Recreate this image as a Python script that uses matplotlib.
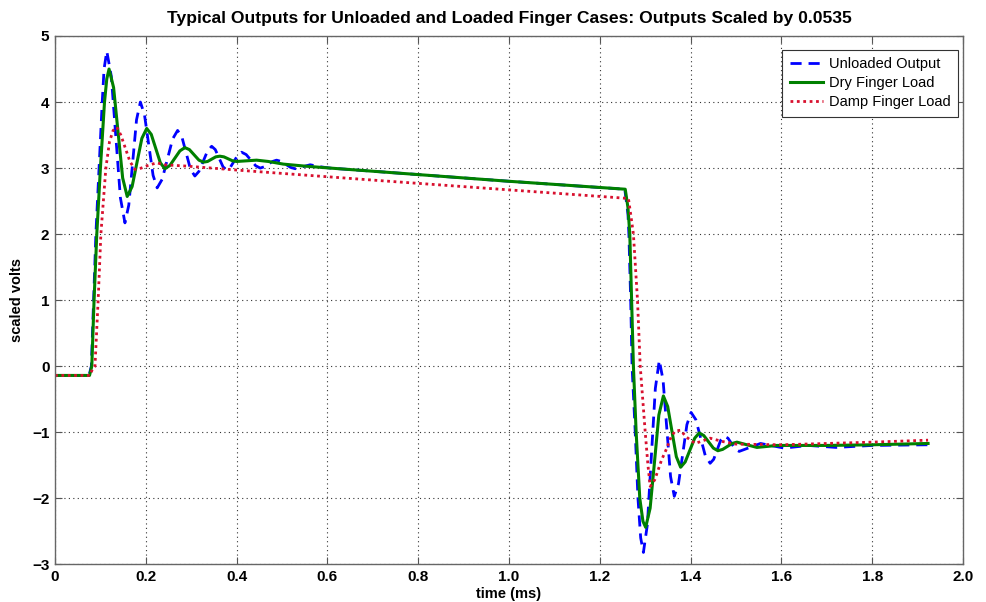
import matplotlib
matplotlib.use("Agg")
import matplotlib.pyplot as plt

plt.rcParams['font.family'] = ['Liberation Sans', 'DejaVu Sans']

# time (ms) and scaled volts
t_unloaded = [0.0, 0.075, 0.080, 0.085, 0.090, 0.097, 0.104, 0.108, 0.114,
              0.124, 0.134, 0.144, 0.154, 0.1625, 0.171, 0.1795, 0.188,
              0.197, 0.2065, 0.216, 0.225, 0.236, 0.2475, 0.259, 0.270,
              0.2795, 0.289, 0.2985, 0.308, 0.317, 0.3265, 0.336, 0.345,
              0.353, 0.3615, 0.370, 0.378, 0.386, 0.3945, 0.403, 0.411,
              0.421, 0.4315, 0.442, 0.452, 0.461, 0.470, 0.479, 0.488,
              0.4985, 0.5085, 0.519, 0.529, 0.5455, 0.562, 0.584, 0.606,
              1.0, 1.255, 1.262, 1.264, 1.268, 1.271, 1.278, 1.284, 1.290,
              1.296, 1.3048, 1.3135, 1.3223, 1.331, 1.3393, 1.3475, 1.3558,
              1.364, 1.3733, 1.3825, 1.3918, 1.401, 1.4115, 1.422, 1.4325,
              1.443, 1.4508, 1.4585, 1.4663, 1.474, 1.4823, 1.4905, 1.4988,
              1.507, 1.5305, 1.554, 1.58, 1.606, 1.66, 1.72, 1.80, 1.923]
v_unloaded = [-0.14, -0.14, 0.0, 1.0, 2.0, 3.0, 4.0, 4.5, 4.77,
              4.39, 3.47, 2.55, 2.17, 2.44, 3.085, 3.73, 4.00,
              3.81, 3.35, 2.89, 2.70, 2.83, 3.135, 3.44, 3.57,
              3.47, 3.225, 2.98, 2.88, 2.95, 3.105, 3.26, 3.33,
              3.28, 3.15, 3.02, 2.97, 3.01, 3.105, 3.20, 3.24,
              3.205, 3.12, 3.035, 3.00, 3.02, 3.06, 3.10, 3.12,
              3.10, 3.055, 3.01, 2.99, 3.02, 3.05, 3.02, 3.00,
              2.80, 2.68, 2.3, 2.0, 1.0, 0.0, -1.0, -2.0, -2.6,
              -2.82, -2.395, -1.365, -0.335, 0.09, -0.21, -0.94, -1.67,
              -1.97, -1.78, -1.335, -0.885, -0.70, -0.81, -1.085, -1.36,
              -1.47, -1.41, -1.265, -1.12, -1.06, -1.09, -1.175, -1.26,
              -1.29, -1.23, -1.17, -1.205, -1.24, -1.20, -1.23, -1.20, -1.19]

t_dry = [0.0, 0.076, 0.081, 0.086, 0.092, 0.100, 0.109, 0.114, 0.119,
         0.129, 0.139, 0.149, 0.159, 0.1698, 0.1805, 0.1913, 0.202,
         0.212, 0.222, 0.232, 0.242, 0.253, 0.264, 0.275, 0.286,
         0.296, 0.3065, 0.317, 0.327, 0.336, 0.345, 0.354, 0.363,
         0.372, 0.3815, 0.391, 0.400, 0.422, 0.444, 0.470, 0.503,
         0.550, 0.606, 1.0, 1.256, 1.262, 1.266, 1.270, 1.274, 1.280,
         1.288, 1.295, 1.301, 1.3108, 1.3205, 1.330, 1.340, 1.3495,
         1.359, 1.3685, 1.378, 1.388, 1.3985, 1.409, 1.419, 1.429,
         1.4395, 1.450, 1.460, 1.4705, 1.481, 1.4915, 1.502, 1.524,
         1.546, 1.59, 1.70, 1.80, 1.923]
v_dry = [-0.14, -0.14, 0.0, 1.0, 2.0, 3.0, 4.0, 4.35, 4.50,
         4.22, 3.535, 2.85, 2.57, 2.72, 3.085, 3.45, 3.60,
         3.51, 3.295, 3.08, 2.99, 3.04, 3.15, 3.26, 3.31,
         3.28, 3.20, 3.12, 3.09, 3.10, 3.135, 3.17, 3.18,
         3.17, 3.14, 3.11, 3.10, 3.11, 3.12, 3.10, 3.06,
         3.03, 3.00, 2.80, 2.68, 2.4, 2.0, 1.0, 0.0, -1.0,
         -2.0, -2.35, -2.44, -2.15, -1.445, -0.74, -0.45, -0.61,
         -0.99, -1.37, -1.53, -1.45, -1.27, -1.09, -1.01, -1.05,
         -1.145, -1.24, -1.28, -1.26, -1.215, -1.17, -1.15, -1.19,
         -1.23, -1.20, -1.20, -1.19, -1.17]

t_damp = [0.0, 0.077, 0.082, 0.088, 0.095, 0.101, 0.112, 0.120, 0.128,
          0.136, 0.145, 0.155, 0.165, 0.176, 0.190, 0.205, 0.224, 0.240,
          0.290, 0.400, 0.716, 1.0, 1.263, 1.268, 1.274, 1.283, 1.289,
          1.300, 1.306, 1.311, 1.321, 1.336, 1.347, 1.357, 1.366, 1.378,
          1.390, 1.410, 1.443, 1.470, 1.500, 1.600, 1.700, 1.800, 1.923]
v_damp = [-0.14, -0.14, -0.05, 0.0, 1.0, 2.0, 3.0, 3.4, 3.57,
          3.62, 3.5, 3.3, 3.1, 2.98, 3.0, 3.04, 3.08, 3.05,
          3.03, 2.97, 2.81, 2.67, 2.54, 2.3, 2.0, 1.0, 0.0,
          -1.0, -1.5, -1.82, -1.72, -1.42, -1.25, -1.07, -0.98, -0.97,
          -1.07, -1.17, -1.09, -1.14, -1.18, -1.19, -1.17, -1.15, -1.12]

x_ticks = [0.0, 0.2, 0.4, 0.6, 0.8, 1.0, 1.2, 1.4, 1.6, 1.8, 2.0]
x_labels = ['0', '0.2', '0.4', '0.6', '0.8', '1.0', '1.2', '1.4', '1.6', '1.8', '2.0']
y_ticks = [-3, -2, -1, 0, 1, 2, 3, 4, 5]

fig = plt.figure(figsize=(9.86, 6.02), dpi=100)
ax = fig.add_axes([0.0558, 0.0626, 0.9209, 0.8776])

ax.plot(t_unloaded, v_unloaded, color='#0000ff', linestyle=(0, (4, 2.5)),
        linewidth=2, label='Unloaded Output')
ax.plot(t_dry, v_dry, color='#008000', linewidth=2.2, label='Dry Finger Load')
ax.plot(t_damp, v_damp, color='#d8102e', linestyle=(0, (1, 1.3)),
        linewidth=2, label='Damp Finger Load')

ax.set_xlim(0, 2.0)
ax.set_ylim(-3, 5)
ax.set_xticks(x_ticks)
ax.set_xticklabels(x_labels)
ax.set_yticks(y_ticks)
ax.tick_params(direction='in', length=5, top=True, right=True,
               labelsize=11, color='#555555', pad=4)
for lab in ax.get_xticklabels() + ax.get_yticklabels():
    lab.set_fontweight('bold')
for s in ax.spines.values():
    s.set_color('#666666')
    s.set_linewidth(1.0)

ax.grid(True, color='#333333', linestyle=(0, (1, 3)), linewidth=0.8)

ax.set_title('Typical Outputs for Unloaded and Loaded Finger Cases: Outputs Scaled by 0.0535',
             fontsize=12.6, fontweight='bold', pad=9)
ax.set_xlabel('time (ms)', fontsize=10.5, fontweight='bold', labelpad=2)
ax.set_ylabel('scaled volts', fontsize=10.5, fontweight='bold', labelpad=6)

leg = ax.legend(loc='upper right', bbox_to_anchor=(0.9945, 0.9735),
                borderaxespad=0, fontsize=10.5, fancybox=False,
                edgecolor='#333333', framealpha=1, handlelength=2.3,
                labelspacing=0.35, handletextpad=0.4, borderpad=0.5)
leg.get_frame().set_linewidth(0.8)

fig.savefig('out.png', dpi=100)
